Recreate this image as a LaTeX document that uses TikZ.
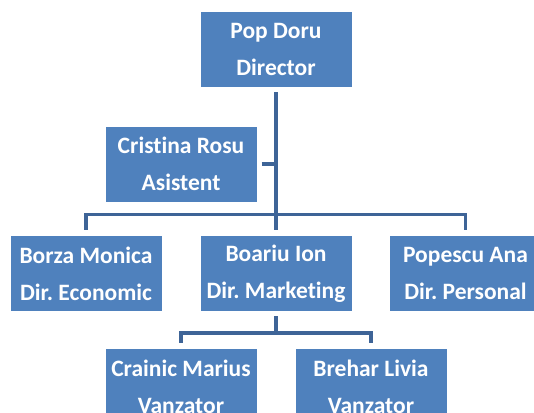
\documentclass[tikz,border=0pt]{standalone}
\usepackage{fontspec}
\setmainfont{Carlito}[Ligatures={NoCommon}]
\frenchspacing
\definecolor{boxblue}{HTML}{4F81BD}
\definecolor{linkblue}{HTML}{3E6497}
\begin{document}
\begin{tikzpicture}[x=1pt,y=-1pt,
  orgbox/.style={fill=boxblue, draw=none, minimum width=151pt, minimum height=75pt,
    inner sep=0pt, text=white, align=center,
    font=\bfseries\fontsize{23.5}{37}\selectfont},
  conn/.style={draw=linkblue, line width=3.5pt}]
\useasboundingbox (0,0) rectangle (534,412);
\node[orgbox] (pop) at (276,49.5) {Pop Doru\\Director};
\node[orgbox] (cristina) at (181,164) {Cristina Rosu\\Asistent};
\node[orgbox] (borza) at (86,273.5) {Borza Monica\\Dir. Economic};
\node[orgbox] (boariu) at (276,273.5) {Boariu Ion\\Dir. Marketing};
\node[orgbox] (popescu) at (465.5,273.5) {Popescu Ana\\Dir. Personal};
\node[orgbox] (crainic) at (181,386.5) {Crainic Marius\\Vanzator};
\node[orgbox] (brehar) at (371,386.5) {Brehar Livia\\Vanzator};
\coordinate (hub) at (276,214.5);
\coordinate (sub) at (276,333);
\draw[conn] ([yshift=-5pt]pop.south) -- ([yshift=6pt]boariu.north);
\draw[conn] ([xshift=5pt]cristina.east) -- (cristina.east -| pop.south);
\draw[conn] ([yshift=6pt]borza.north) |- (hub) -| ([yshift=6pt]popescu.north);
\draw[conn] ([yshift=-5pt]boariu.south) -- (sub);
\draw[conn] ([yshift=6pt]crainic.north) |- (sub) -| ([yshift=6pt]brehar.north);
\end{tikzpicture}
\end{document}
